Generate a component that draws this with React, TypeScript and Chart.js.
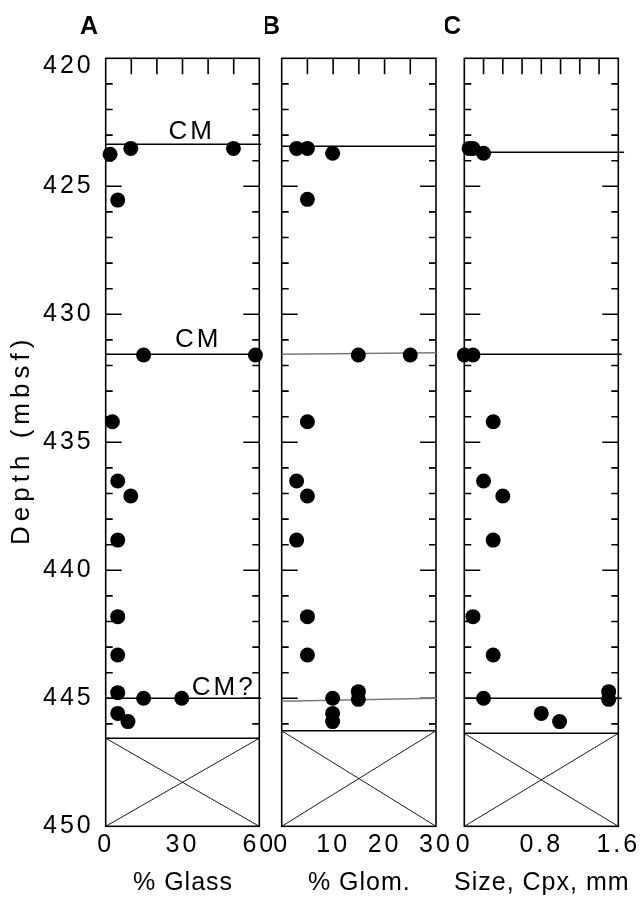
import React, { useEffect, useRef } from 'react';
import { Chart, registerables } from 'chart.js';
Chart.register(...registerables);

// ---- shared depth axis ----
const depthMin = 420;
const depthMax = 450;
const depthLabelStep = 5;
const depthTitle = 'Depth (mbsf)';

// ---- Panel A: % Glass ----
const glassDepth = [423.75, 423.52, 423.52, 425.54, 431.59, 431.59, 434.2, 436.51, 437.1, 438.82, 441.81, 443.31, 444.78, 445.0, 445.0, 445.59, 445.91];
const glassPct = [1.7, 9.8, 49.9, 4.7, 14.8, 58.5, 2.6, 4.7, 9.8, 4.7, 4.7, 4.7, 4.7, 14.8, 29.7, 4.7, 8.7];
const glassTickLabels = [0, 30, 60];
const glassLines = [
  { x0: 0, x1: 60.7, d0: 423.36, d1: 423.36, faint: false },
  { x0: 0, x1: 60, d0: 431.56, d1: 431.56, faint: false },
  { x0: 0, x1: 60.7, d0: 445.0, d1: 445.0, faint: false },
];
const glassNotes = [
  { text: 'CM', x: 24.5, depth: 422.89 },
  { text: 'CM', x: 27.1, depth: 431.0 },
  { text: 'CM?', x: 33.6, depth: 444.58 },
];
const glassNoData = 446.56;

// ---- Panel B: % Glom. ----
const glomDepth = [423.52, 423.52, 423.71, 425.51, 431.59, 431.59, 434.2, 436.51, 437.1, 438.82, 441.81, 443.31, 445.0, 444.74, 445.04, 445.59, 445.91];
const glomPct = [2.9, 5.0, 9.9, 5.0, 14.9, 25.0, 5.0, 2.9, 5.0, 2.9, 5.0, 5.0, 9.9, 14.9, 14.9, 9.9, 9.9];
const glomTickLabels = [0, 10, 20, 30];
const glomLines = [
  { x0: 0, x1: 30, d0: 423.44, d1: 423.44, faint: false },
  { x0: 0, x1: 30, d0: 431.56, d1: 431.5, faint: true },
  { x0: 0, x1: 30, d0: 445.12, d1: 445.0, faint: true },
];
const glomNoData = 446.27;

// ---- Panel C: Size, Cpx, mm ----
const cpxDepth = [423.52, 423.52, 423.71, 431.59, 431.59, 434.2, 436.51, 437.1, 438.82, 441.81, 443.31, 445.0, 444.74, 445.04, 445.59, 445.91];
const cpxSize = [0.05, 0.09, 0.2, 0.0, 0.09, 0.3, 0.2, 0.4, 0.3, 0.09, 0.3, 0.2, 1.5, 1.5, 0.8, 0.99];
const cpxTickLabels = [0, 0.8, 1.6];
const cpxLines = [
  { x0: 0, x1: 1.66, d0: 423.67, d1: 423.67, faint: false },
  { x0: 0, x1: 1.635, d0: 431.56, d1: 431.56, faint: false },
  { x0: 0, x1: 1.635, d0: 445.0, d1: 445.0, faint: false },
];
const cpxNoData = 446.37;

const FONT = '"Liberation Sans", Arial, Helvetica, sans-serif';

type Line = { x0: number; x1: number; d0: number; d1: number; faint: boolean };
type Panel = {
  key: string; letter: string; letterX: number; left: number; width: number;
  areaLeft: number; areaRight: number; xMax: number; xStep: number; tickLabels: number[];
  title: string; xs: number[]; ys: number[]; lines: Line[];
  notes: { text: string; x: number; depth: number }[];
  noData: number; showY: boolean;
};

const AREA_TOP = 58.3;
const AREA_BOTTOM = 826.3;
const H = 900;

const panels: Panel[] = [
  { key: 'A', letter: 'A', letterX: 89, left: 0, width: 280, areaLeft: 105.7, areaRight: 259.3, xMax: 60, xStep: 10,
    tickLabels: glassTickLabels, title: '% Glass', xs: glassPct, ys: glassDepth, lines: glassLines,
    notes: glassNotes, noData: glassNoData, showY: true },
  { key: 'B', letter: 'B', letterX: 271, left: 265, width: 190, areaLeft: 281.7, areaRight: 436, xMax: 30, xStep: 5,
    tickLabels: glomTickLabels, title: '% Glom.', xs: glomPct, ys: glomDepth, lines: glomLines,
    notes: [], noData: glomNoData, showY: false },
  { key: 'C', letter: 'C', letterX: 452, left: 445, width: 197, areaLeft: 464.3, areaRight: 618.3, xMax: 1.6, xStep: 0.2,
    tickLabels: cpxTickLabels, title: 'Size, Cpx, mm', xs: cpxSize, ys: cpxDepth, lines: cpxLines,
    notes: [], noData: cpxNoData, showY: false },
];

function fmt(v: number) {
  return String(Math.round(v * 10) / 10);
}

function decorPlugin(p: Panel) {
  return {
    id: 'decor' + p.key,
    beforeDraw(chart: any) {
      chart.ctx.letterSpacing = '3px';
    },
    beforeDatasetsDraw(chart: any) {
      const { ctx, chartArea: a, scales } = chart;
      const x = scales.x, y = scales.y;
      ctx.save();
      ctx.strokeStyle = '#000';
      ctx.lineWidth = 1.6;
      ctx.strokeRect(a.left, a.top, a.right - a.left, a.bottom - a.top);
      ctx.beginPath();
      for (let d = depthMin + 1; d < p.noData; d++) {
        const py = y.getPixelForValue(d);
        const len = d % depthLabelStep === 0 ? 16 : 7;
        ctx.moveTo(a.left, py); ctx.lineTo(a.left + len, py);
        ctx.moveTo(a.right - len, py); ctx.lineTo(a.right, py);
      }
      const n = Math.round(p.xMax / p.xStep);
      for (let i = 1; i < n; i++) {
        const px = x.getPixelForValue(i * p.xStep);
        ctx.moveTo(px, a.top); ctx.lineTo(px, a.top + 16);
      }
      ctx.stroke();
      ctx.restore();
    },
    afterDatasetsDraw(chart: any) {
      const { ctx, chartArea: a, scales } = chart;
      const x = scales.x, y = scales.y;
      ctx.save();
      ctx.fillStyle = '#000';
      // annotations
      ctx.letterSpacing = '3px';
      ctx.font = '26px ' + FONT;
      ctx.textAlign = 'left';
      ctx.textBaseline = 'middle';
      for (const nt of p.notes) {
        ctx.fillText(nt.text, x.getPixelForValue(nt.x), y.getPixelForValue(nt.depth));
      }
      // x-axis title
      ctx.letterSpacing = '1px';
      ctx.font = '25px ' + FONT;
      ctx.textAlign = 'center';
      ctx.fillText(p.title, (a.left + a.right) / 2 + 0.5, 883);
      // depth title
      if (p.showY) {
        ctx.save();
        ctx.translate(22, (a.top + a.bottom) / 2);
        ctx.rotate(-Math.PI / 2);
        ctx.letterSpacing = '5px';
        ctx.font = '26px ' + FONT;
        ctx.fillText(depthTitle, 2.5, 0);
        ctx.restore();
      }
      // panel letter
      ctx.font = 'bold 25px ' + FONT;
      ctx.letterSpacing = '0px';
      ctx.fillText(p.letter, p.letterX - p.left, 27);
      ctx.restore();
    },
  };
}

function makeChart(canvas: HTMLCanvasElement, p: Panel) {
  const datasets: any[] = [];
  datasets.push({
    data: p.xs.map((v, i) => ({ x: v, y: p.ys[i] })),
    pointRadius: 7.5, pointHoverRadius: 7.5, backgroundColor: '#000', borderWidth: 0, clip: false,
  });
  for (const l of p.lines) {
    datasets.push({
      data: [{ x: l.x0, y: l.d0 }, { x: l.x1, y: l.d1 }],
      showLine: true, borderColor: l.faint ? '#7a7a7a' : '#000', borderWidth: 1.5, pointRadius: 0, clip: false,
    });
  }
  const nd = p.noData;
  datasets.push({ data: [{ x: 0, y: nd }, { x: p.xMax, y: nd }], showLine: true, borderColor: '#000', borderWidth: 1.5, pointRadius: 0, clip: false });
  datasets.push({ data: [{ x: 0, y: nd }, { x: p.xMax, y: depthMax }], showLine: true, borderColor: '#000', borderWidth: 0.9, pointRadius: 0, clip: false });
  datasets.push({ data: [{ x: 0, y: depthMax }, { x: p.xMax, y: nd }], showLine: true, borderColor: '#000', borderWidth: 0.9, pointRadius: 0, clip: false });

  return new Chart(canvas, {
    type: 'scatter',
    data: { datasets },
    plugins: [decorPlugin(p)],
    options: {
      responsive: false,
      animation: false,
      events: [],
      layout: { padding: { left: 0, top: AREA_TOP, right: p.left + p.width - p.areaRight, bottom: 0 } },
      plugins: { legend: { display: false }, tooltip: { enabled: false } },
      scales: {
        x: {
          type: 'linear', position: 'bottom', min: 0, max: p.xMax,
          grid: { display: false, drawTicks: false }, border: { display: false },
          ticks: {
            stepSize: p.xStep, autoSkip: false, maxRotation: 0, minRotation: 0, padding: 4, color: '#000',
            font: { family: FONT, size: 25 },
            callback: (v: any) => (p.tickLabels.some((t) => Math.abs(t - Number(v)) < 1e-6) ? fmt(Number(v)) : ''),
          },
          title: { display: false },
          afterFit: (s: any) => { s.height = H - AREA_BOTTOM; },
        },
        y: {
          type: 'linear', reverse: true, min: depthMin, max: depthMax,
          grid: { display: false, drawTicks: false }, border: { display: false },
          ticks: {
            display: p.showY, stepSize: 1, autoSkip: false, padding: 12, color: '#000',
            font: (c: any) => (c.tick && c.tick.value === depthMin
              ? { family: FONT, size: 25, lineHeight: '16px' }
              : { family: FONT, size: 25 }),
            callback: (v: any) => {
              const n = Number(v);
              if (n % depthLabelStep !== 0) return '';
              return n === depthMin ? ['', String(n)] : String(n);
            },
          },
          title: { display: false },
          afterFit: (s: any) => { s.width = p.areaLeft - p.left; },
        },
      },
    },
  } as any);
}

function PanelCanvas({ p }: { p: Panel }) {
  const ref = useRef<HTMLCanvasElement>(null);
  useEffect(() => {
    if (!ref.current) return;
    const c = makeChart(ref.current, p);
    return () => c.destroy();
  }, [p]);
  return (
    <canvas
      ref={ref}
      width={p.width}
      height={H}
      style={{ position: 'absolute', left: p.left, top: 0, width: p.width, height: H }}
    />
  );
}

export default function App() {
  return (
    <div style={{ position: 'absolute', left: 0, top: 0, width: 642, height: H, background: '#fff' }}>
      {panels.map((p) => (
        <PanelCanvas key={p.key} p={p} />
      ))}
    </div>
  );
}
